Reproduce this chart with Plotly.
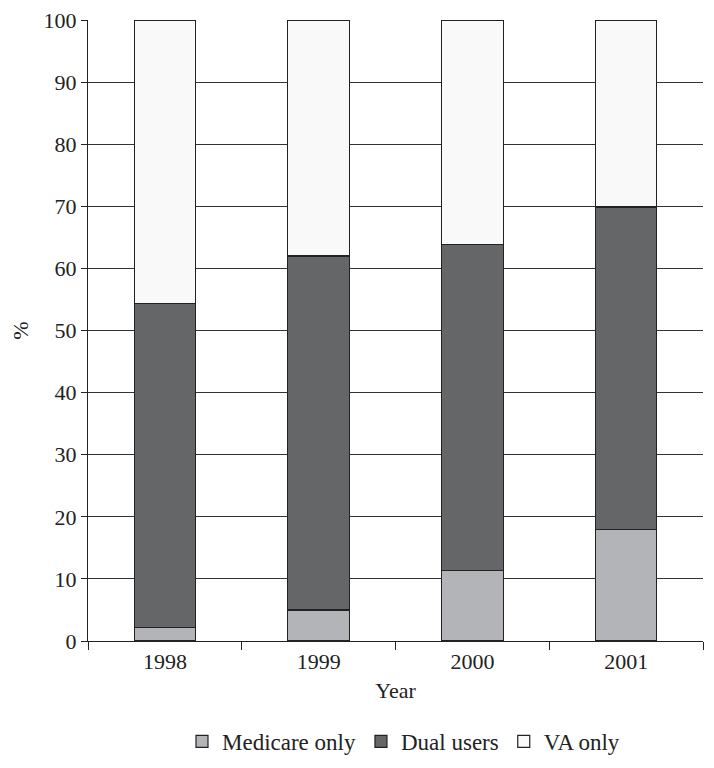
import plotly.graph_objects as go

years = ["1998", "1999", "2000", "2001"]
medicare_only = [2.2, 5.0, 11.4, 18.0]
dual_users = [52.1, 57.0, 52.5, 51.9]
va_only = [45.7, 38.0, 36.1, 30.1]

font_family = "Liberation Serif, Times New Roman, serif"
line = dict(color="#222222", width=1.2)

fig = go.Figure()
fig.add_trace(go.Bar(name="Medicare only", x=years, y=medicare_only,
                     marker=dict(color="#b3b4b7", line=line)))
fig.add_trace(go.Bar(name="Dual users", x=years, y=dual_users,
                     marker=dict(color="#656668", line=line)))
fig.add_trace(go.Bar(name="VA only", x=years, y=va_only,
                     marker=dict(color="#f9f9f9", line=line)))

fig.update_layout(
    barmode="stack",
    bargap=0.6,
    width=706, height=760,
    margin=dict(l=80, r=11, t=12, b=127, autoexpand=False),
    plot_bgcolor="white", paper_bgcolor="white",
    font=dict(family=font_family, size=22, color="#222222"),
    showlegend=True,
    legend=dict(orientation="h", x=0.513, xanchor="center", y=-0.127, yanchor="top",
                font=dict(size=23), traceorder="normal", itemwidth=30),
)
fig.update_xaxes(
    type="category", automargin=False,
    showline=True, linecolor="#222222", linewidth=1.3,
    ticks="outside", tickson="boundaries", ticklen=8, tickcolor="#222222",
    tickfont=dict(size=22),
    title=dict(text="Year", font=dict(size=22), standoff=10),
    showgrid=False,
)
fig.update_yaxes(
    range=[0, 100], dtick=10, automargin=False,
    showline=True, linecolor="#222222", linewidth=1.3,
    ticks="outside", ticklen=6, tickcolor="#222222",
    tickfont=dict(size=22), ticklabeloverflow="allow",
    showgrid=True, gridcolor="#333333", gridwidth=1,
    title=dict(text="%", font=dict(size=22), standoff=32),
    zeroline=False,
)

fig.write_html("out.html")
